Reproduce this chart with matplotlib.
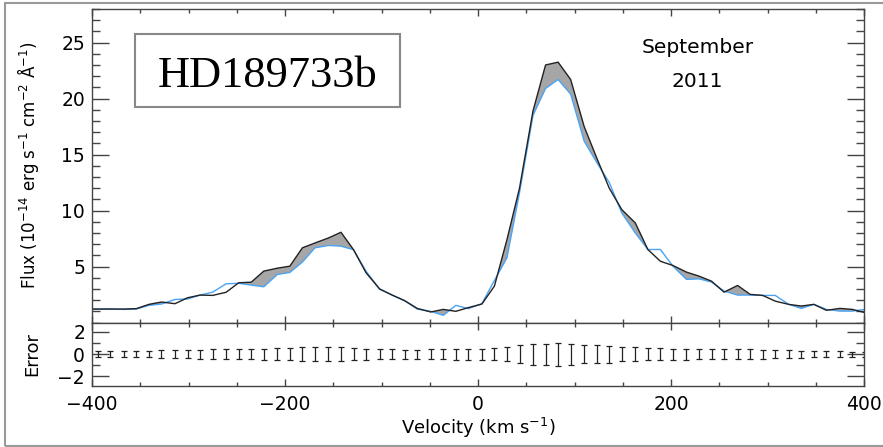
import numpy as np
import matplotlib
matplotlib.use('Agg')
import matplotlib.pyplot as plt
from matplotlib.patches import Rectangle
from matplotlib.ticker import MultipleLocator

# velocity grid (km/s)
vel = [-407, -394, -381, -367, -354, -341, -328, -314, -301, -288, -275, -261,
       -248, -235, -222, -208, -195, -182, -169, -155, -142, -129, -116, -102,
       -89, -76, -63, -49, -36, -23, -10, 4, 17, 30, 43, 57, 70, 83, 96, 110,
       123, 136, 149, 163, 176, 189, 202, 216, 229, 242, 255, 269, 282, 295,
       308, 322, 335, 348, 361, 375, 388, 401]

# flux before transit (black) and the other epoch (blue), 1e-14 units
flux_black = [1.2, 1.2, 1.2, 1.2, 1.24, 1.62, 1.83, 1.68, 2.21, 2.45, 2.42, 2.7,
              3.55, 3.6, 4.59, 4.85, 5.03, 6.67, 7.1, 7.55, 8.06, 6.5, 4.44, 3.0,
              2.45, 1.95, 1.26, 0.94, 1.17, 1.0, 1.33, 1.65, 3.25, 7.4, 12.0, 18.9,
              23.0, 23.25, 21.7, 17.5, 14.7, 12.0, 10.08, 8.89, 6.52, 5.47, 5.09,
              4.5, 4.14, 3.69, 2.71, 3.31, 2.51, 2.42, 1.91, 1.62, 1.47, 1.62, 1.09,
              1.26, 1.17, 0.88]
flux_blue = [1.17, 1.2, 1.22, 1.17, 1.2, 1.53, 1.65, 2.06, 2.1, 2.45, 2.71, 3.46,
             3.5, 3.34, 3.19, 4.29, 4.47, 5.4, 6.67, 6.88, 6.82, 6.5, 4.58, 2.98,
             2.45, 1.95, 1.2, 1.0, 0.64, 1.53, 1.24, 1.68, 3.75, 5.78, 11.6, 18.5,
             20.9, 21.7, 20.4, 16.2, 14.3, 12.5, 9.78, 8.0, 6.52, 6.52, 5.03, 3.85,
             3.9, 3.61, 2.8, 2.45, 2.45, 2.42, 2.42, 1.62, 1.26, 1.62, 1.17, 1.02,
             1.02, 1.17]
# error bar half lengths
err = [0.24, 0.24, 0.24, 0.26, 0.28, 0.3, 0.33, 0.35, 0.37, 0.4, 0.42, 0.45,
       0.47, 0.47, 0.5, 0.52, 0.55, 0.6, 0.6, 0.6, 0.6, 0.55, 0.5, 0.45, 0.42,
       0.4, 0.4, 0.42, 0.42, 0.5, 0.5, 0.5, 0.55, 0.6, 0.79, 0.95, 0.95, 1.03,
       0.94, 0.83, 0.83, 0.76, 0.65, 0.65, 0.56, 0.56, 0.5, 0.5, 0.47, 0.47,
       0.45, 0.45, 0.42, 0.4, 0.38, 0.35, 0.32, 0.3, 0.28, 0.25, 0.22, 0.22]

v = np.array(vel)
fb = np.array(flux_black)
fl = np.array(flux_blue)

fig = plt.figure(figsize=(8.83, 4.47), dpi=100)
ax = fig.add_axes([0.1042, 0.2785, 0.8743, 0.7014])
ax2 = fig.add_axes([0.1042, 0.1371, 0.8743, 0.1414])

spine_col = '#444444'

ax.fill_between(v, fl, fb, where=fb > fl, interpolate=True, color='#a6a6a6', lw=0)
ax.plot(v, fl, color='#4aa3f5', lw=1.0)
ax.plot(v, fb, color='#222222', lw=1.0)

ax.set_xlim(-400, 400)
ax.set_ylim(0, 28)
ax.set_yticks([5, 10, 15, 20, 25])
ax.yaxis.set_minor_locator(MultipleLocator(1))
ax.xaxis.set_major_locator(MultipleLocator(200))
ax.xaxis.set_minor_locator(MultipleLocator(50))
ax.tick_params(axis='x', labelbottom=False)
ax.set_ylabel('Flux (10$^{-14}$ erg s$^{-1}$ cm$^{-2}$ Å$^{-1}$)', fontsize=12)

ax2.errorbar(v, np.zeros(len(v)), yerr=err, fmt='none', ecolor='#222222',
             elinewidth=0.9, capsize=2.2, capthick=0.9)
ax2.set_xlim(-400, 400)
ax2.set_ylim(-2.85, 2.85)
ax2.set_yticks([-2, 0, 2])
ax2.yaxis.set_minor_locator(MultipleLocator(1))
ax2.xaxis.set_major_locator(MultipleLocator(200))
ax2.xaxis.set_minor_locator(MultipleLocator(50))
ax2.set_ylabel('Error', fontsize=13)
ax2.set_xlabel('Velocity (km s$^{-1}$)', fontsize=13, labelpad=1)

for a in (ax, ax2):
    for s in a.spines.values():
        s.set_color(spine_col)
        s.set_linewidth(1.0)
    a.tick_params(which='both', direction='in', top=True, right=True,
                  color=spine_col, labelsize=13.5)
    a.tick_params(axis='y', which='major', length=12, width=1.0, pad=5)
    a.tick_params(axis='y', which='minor', length=6, width=1.0)
    a.tick_params(axis='x', which='major', length=5, width=1.0, pad=7)
    a.tick_params(axis='x', which='minor', length=3, width=1.0)

ax.yaxis.set_label_coords(-0.066, 0.5)
ax2.yaxis.set_label_coords(-0.066, 0.5)

# label box
ax.add_patch(Rectangle((0.0557, 0.687), 0.343, 0.233, transform=ax.transAxes,
                       fill=False, ec='#888888', lw=1.5))
ax.text(0.227, 0.751, 'HD189733b', transform=ax.transAxes, ha='center',
        va='baseline', fontsize=32, family='Liberation Serif')
ax.text(0.784, 0.86, 'September', transform=ax.transAxes, ha='center',
        va='baseline', fontsize=14.5)
ax.text(0.784, 0.752, '2011', transform=ax.transAxes, ha='center',
        va='baseline', fontsize=14.5)

# outer gray frame
fig.add_artist(Rectangle((5 / 883, 1 / 447), 1.0, 1 - 4 / 447, transform=fig.transFigure,
                         fill=False, ec='#999999', lw=1.5))

fig.savefig('out.png', dpi=100)
